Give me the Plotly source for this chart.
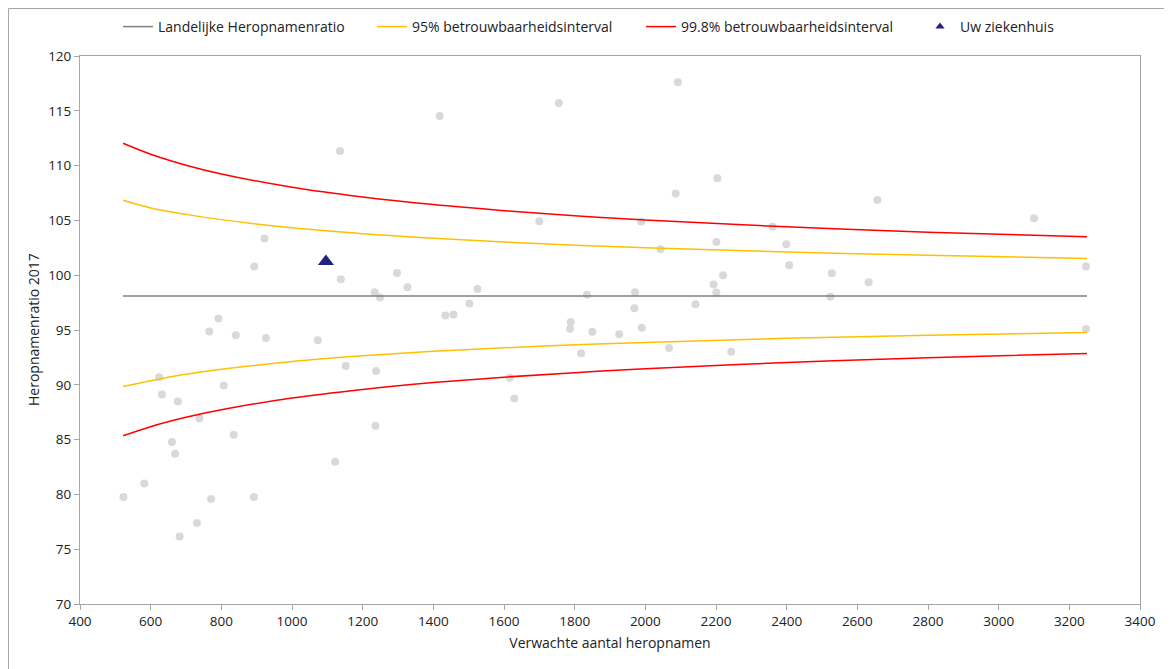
import plotly.graph_objects as go

# Hospitals: expected readmissions vs readmission ratio
exp_x = [523, 582, 624, 632, 660, 669, 677, 682, 731, 738, 766, 771, 792, 807, 835, 841,
         892, 893, 922, 926, 1073, 1122, 1136, 1138, 1152, 1234, 1236, 1238, 1249, 1297,
         1327, 1418, 1434, 1457, 1502, 1525, 1616, 1629, 1700, 1755, 1787, 1789, 1818,
         1835, 1850, 1926, 1969, 1971, 1988, 1990, 2043, 2067, 2086, 2092, 2142, 2193,
         2201, 2201, 2204, 2220, 2243, 2360, 2399, 2407, 2524, 2528, 2632, 2657, 3100,
         3247, 3247]
ratio_y = [79.76, 81.0, 90.70, 89.12, 84.78, 83.71, 88.48, 76.17, 77.39, 86.93, 94.86, 79.58,
           96.05, 89.94, 85.44, 94.53, 79.76, 100.79, 103.34, 94.26, 94.07, 82.98, 111.34,
           99.64, 91.71, 98.45, 86.26, 91.25, 97.96, 100.21, 98.91, 114.53, 96.32, 96.41,
           97.41, 98.73, 90.64, 88.75, 104.92, 115.71, 95.11, 95.72, 92.89, 98.21, 94.83,
           94.62, 96.99, 98.45, 104.89, 95.20, 102.37, 93.35, 107.45, 117.6, 97.36, 99.15,
           103.04, 98.42, 108.85, 100.0, 93.01, 104.41, 102.83, 100.91, 98.03, 100.18,
           99.36, 106.87, 105.2, 100.79, 95.08]

# Own hospital
own_x = [1096]
own_y = [101.25]

# National ratio line
nat_x = [522, 3250]
nat_y = [98.1, 98.1]

# Confidence bounds
band_x = [522, 600, 700, 800, 1000, 1200, 1400, 1600, 1800, 2000, 2400, 2800, 3250]
up95 = [106.84, 106.14, 105.55, 105.07, 104.33, 103.79, 103.37, 103.03, 102.74, 102.51, 102.12, 101.82, 101.52]
lo95 = [89.85, 90.38, 90.96, 91.42, 92.12, 92.64, 93.05, 93.37, 93.65, 93.87, 94.24, 94.53, 94.77]
up998 = [112.04, 111.04, 110.04, 109.24, 108.03, 107.14, 106.44, 105.89, 105.43, 105.04, 104.42, 103.93, 103.50]
lo998 = [85.35, 86.18, 87.03, 87.72, 88.80, 89.58, 90.20, 90.70, 91.11, 91.46, 92.03, 92.47, 92.86]

x_ticks = list(range(400, 3401, 200))
y_ticks = list(range(70, 121, 5))

FONT = "Open Sans"
TXT = "#222222"

fig = go.Figure()
fig.add_trace(go.Scatter(x=exp_x, y=ratio_y, mode="markers", showlegend=False,
                         marker=dict(color="#d9d9d9", size=8)))
fig.add_trace(go.Scatter(x=nat_x, y=nat_y, mode="lines", name="Landelijke Heropnamenratio",
                         legend="legend", line=dict(color="#7f7f7f", width=1.5)))
fig.add_trace(go.Scatter(x=band_x, y=up95, mode="lines", name="95% betrouwbaarheidsinterval",
                         legend="legend2", line=dict(color="#FFC000", width=1.5, shape="spline")))
fig.add_trace(go.Scatter(x=band_x, y=up998, mode="lines", name="99.8% betrouwbaarheidsinterval",
                         legend="legend3", line=dict(color="#FF0000", width=1.5, shape="spline")))
fig.add_trace(go.Scatter(x=band_x, y=lo95, mode="lines", showlegend=False,
                         line=dict(color="#FFC000", width=1.5, shape="spline")))
fig.add_trace(go.Scatter(x=band_x, y=lo998, mode="lines", showlegend=False,
                         line=dict(color="#FF0000", width=1.5, shape="spline")))
fig.add_trace(go.Scatter(x=own_x, y=own_y, mode="markers", showlegend=False,
                         marker=dict(color="#23237d", size=14, symbol="triangle-up")))
# legend entry for own hospital (smaller symbol, as in the original legend)
fig.add_trace(go.Scatter(x=[None], y=[None], mode="markers", name="Uw ziekenhuis",
                         legend="legend4",
                         marker=dict(color="#23237d", size=8, symbol="triangle-up")))

axis_common = dict(showgrid=False, zeroline=False, showline=True, linecolor="#a6a6a6",
                   linewidth=1, mirror=True, ticks="outside", tickcolor="#a6a6a6",
                   ticklen=5, automargin=False,
                   tickfont=dict(family=FONT, size=13.5, color=TXT))

# page has an 8px body margin; figure sized so it fits the 1172x669 window
W, H = 1164, 661
ML, MT, MR, MB = 72, 48, 32, 65
leg_y = 1 - 19 / H


def leg(px):
    return dict(xref="container", yref="container", x=px / W, xanchor="left",
                y=leg_y, yanchor="middle", bgcolor="rgba(0,0,0,0)",
                font=dict(family=FONT, size=14, color=TXT), itemwidth=30)


PW = W - ML - MR
PH = H - MT - MB

fig.update_layout(
    width=W, height=H,
    margin=dict(l=ML, r=MR, t=MT, b=MB, autoexpand=False),
    paper_bgcolor="white", plot_bgcolor="white",
    font=dict(family=FONT, size=14, color=TXT),
    legend=leg(110), legend2=leg(364), legend3=leg(633), legend4=leg(912),
    xaxis=dict(range=[400, 3400], tickvals=x_ticks,
               title=dict(text="Verwachte aantal heropnamen", standoff=8,
                          font=dict(family=FONT, size=14, color=TXT)), **axis_common),
    yaxis=dict(range=[70, 120], tickvals=y_ticks, **axis_common),
    annotations=[dict(text="Heropnamenratio 2017", textangle=-90, showarrow=False,
                      xref="paper", yref="paper", x=(25 - ML) / PW, y=0.5,
                      xanchor="center", yanchor="middle",
                      font=dict(family=FONT, size=14, color=TXT))],
    shapes=[dict(type="rect", xref="paper", yref="paper",
                 x0=(0.5 - ML) / PW, x1=(1162 - ML) / PW,
                 y0=(PH + MT - 665) / PH, y1=(PH + MT - 0.5) / PH,
                 line=dict(color="#a6a6a6", width=1), layer="below")],
)

fig.write_html("out.html")
